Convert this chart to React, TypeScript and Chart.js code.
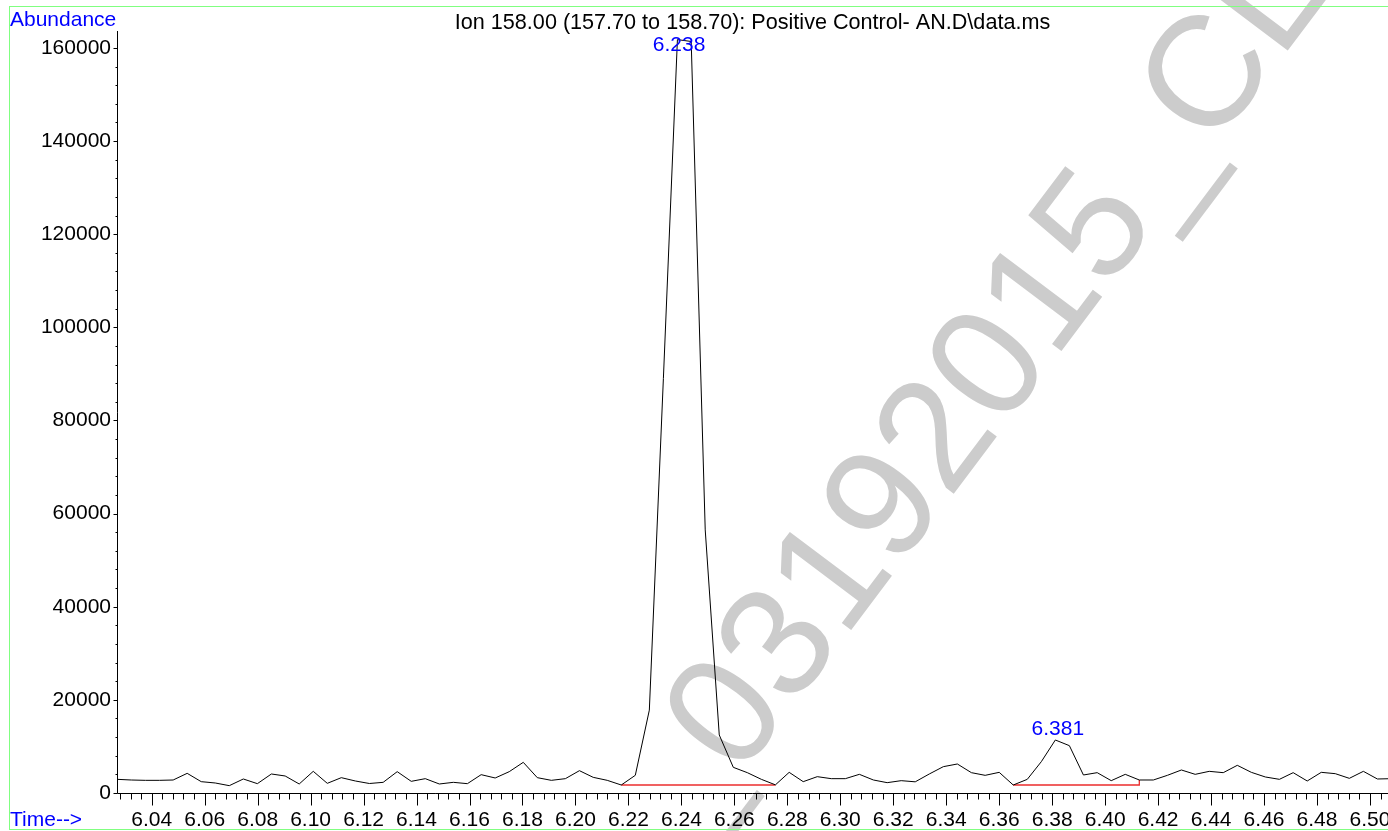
import { useEffect, useRef } from 'react';
import { Chart, registerables } from 'chart.js';

Chart.register(...registerables);

// Retention times (min) of each scan
const times: number[] = [
  6.0270, 6.0323, 6.0376, 6.0429, 6.0481, 6.0534, 6.0587, 6.0640, 6.0693, 6.0746,
  6.0799, 6.0852, 6.0904, 6.0957, 6.1010, 6.1063, 6.1116, 6.1169, 6.1222, 6.1274,
  6.1327, 6.1380, 6.1433, 6.1486, 6.1539, 6.1592, 6.1644, 6.1697, 6.1750, 6.1803,
  6.1856, 6.1909, 6.1962, 6.2015, 6.2067, 6.2120, 6.2173, 6.2226, 6.2279, 6.2332,
  6.2385, 6.2437, 6.2490, 6.2543, 6.2596, 6.2649, 6.2702, 6.2755, 6.2807, 6.2860,
  6.2913, 6.2966, 6.3019, 6.3072, 6.3125, 6.3177, 6.3230, 6.3283, 6.3336, 6.3389,
  6.3442, 6.3495, 6.3547, 6.3600, 6.3653, 6.3706, 6.3759, 6.3812, 6.3865, 6.3918,
  6.3970, 6.4023, 6.4076, 6.4129, 6.4182, 6.4235, 6.4288, 6.4340, 6.4393, 6.4446,
  6.4499, 6.4552, 6.4605, 6.4658, 6.4710, 6.4763, 6.4816, 6.4869, 6.4922, 6.4975,
  6.5028, 6.5081,
];

// Ion 158 abundance per scan
const abundance: number[] = [
  2936, 2790, 2720, 2720, 2790, 4224, 2434, 2148, 1575, 3007,
  2005, 4081, 3652, 1933, 4654, 2076, 3294, 2578, 2040, 2291,
  4582, 2506, 3079, 1933, 2291, 2005, 3938, 3222, 4582, 6587,
  3294, 2721, 3079, 4797, 3365, 2721, 1718, 3800, 17800, 89000,
  161800, 161400, 56500, 12460, 5513, 4368, 2936, 1750, 4439, 2434,
  3508, 3079, 3079, 4010, 2792, 2220, 2650, 2400, 4081, 5656,
  6229, 4368, 3795, 4439, 1718, 2936, 6730, 11384, 10167, 3866,
  4368, 2650, 4010, 2792, 2792, 3795, 4940, 4010, 4654, 4368,
  5943, 4439, 3437, 2936, 4368, 2578, 4439, 4153, 3150, 4654,
  3007, 3079,
];

// Integration baselines (red)
const baseline1Times: number[] = [6.2173, 6.2755];
const baseline1Values: number[] = [1718, 1718];
const baseline2Times: number[] = [6.3653, 6.4129, 6.4129];
const baseline2Values: number[] = [1718, 1718, 2792];

// Peak labels
const peakLabels: string[] = ['6.238', '6.381'];
const peakTimes: number[] = [6.238, 6.381];
const peakApex: number[] = [161800, 11384];

const X_MIN = 6.0269;
const X_MAX = 6.5068;
const Y_MAX = 163650;
const X_MAJOR = 0.02;
const X_MINOR = 0.004;
const Y_MAJOR = 20000;
const Y_MINOR = 4000;

const TITLE = 'Ion 158.00 (157.70 to 158.70): Positive Control- AN.D\\data.ms';
const Y_TITLE = 'Abundance';
const X_TITLE = 'Time-->';
const WATERMARK = '_03192015_CL';

const FONT = '"Liberation Sans", Arial, Helvetica, sans-serif';

const drawPlugin = {
  id: 'gcmsDecor',
  beforeDatasetsDraw(chart: any) {
    const ctx = chart.ctx as CanvasRenderingContext2D;
    const em = 157;
    const adv = 0.556 * em;
    ctx.save();
    ctx.translate(720, 710);
    ctx.rotate((-53 * Math.PI) / 180);
    ctx.font = `${em}px ${FONT}`;
    ctx.fillStyle = '#cccccc';
    ctx.textBaseline = 'alphabetic';
    ctx.textAlign = 'left';
    ctx.fillText(WATERMARK, -1.5 * adv, 0.36 * em);
    ctx.restore();
  },
  afterDraw(chart: any) {
    const ctx = chart.ctx as CanvasRenderingContext2D;
    const xs = chart.scales.x;
    const ys = chart.scales.y;
    const area = chart.chartArea;
    ctx.save();
    ctx.strokeStyle = '#000';
    ctx.lineWidth = 1;
    // axis lines
    const y0 = Math.round(ys.getPixelForValue(0)) + 0.5;
    const xl = Math.round(area.left) + 0.5;
    ctx.beginPath();
    ctx.moveTo(xl, area.top);
    ctx.lineTo(xl, y0);
    ctx.moveTo(xl, y0);
    ctx.lineTo(area.right, y0);
    ctx.stroke();

    // x ticks
    ctx.font = `21px ${FONT}`;
    ctx.fillStyle = '#000';
    ctx.textAlign = 'center';
    ctx.textBaseline = 'alphabetic';
    const kx0 = Math.ceil(X_MIN / X_MINOR - 1e-6);
    const kx1 = Math.floor(X_MAX / X_MINOR + 1e-6);
    const per = Math.round(X_MAJOR / X_MINOR);
    ctx.beginPath();
    for (let k = kx0; k <= kx1; k++) {
      const v = k * X_MINOR;
      const px = Math.round(xs.getPixelForValue(v)) + 0.5;
      const major = k % per === 0;
      ctx.moveTo(px, y0);
      ctx.lineTo(px, y0 + (major ? 12 : 6));
    }
    ctx.stroke();
    for (let k = kx0; k <= kx1; k++) {
      if (k % per !== 0) continue;
      const v = k * X_MINOR;
      const px = xs.getPixelForValue(v);
      ctx.fillText(v.toFixed(2), px, 825.5);
    }

    // y ticks
    ctx.textAlign = 'right';
    ctx.textBaseline = 'middle';
    const ky1 = Math.floor(Y_MAX / Y_MINOR);
    const yper = Math.round(Y_MAJOR / Y_MINOR);
    ctx.beginPath();
    for (let k = 0; k <= ky1; k++) {
      const py = Math.round(ys.getPixelForValue(k * Y_MINOR)) + 0.5;
      const major = k % yper === 0;
      ctx.moveTo(xl, py);
      ctx.lineTo(xl - (major ? 4 : 2), py);
    }
    ctx.stroke();
    for (let k = 0; k <= ky1; k += yper) {
      const v = k * Y_MINOR;
      ctx.fillText(String(v), 111, ys.getPixelForValue(v));
    }

    // title & axis titles
    ctx.textBaseline = 'alphabetic';
    ctx.textAlign = 'center';
    ctx.fillStyle = '#000';
    ctx.font = `21.6px ${FONT}`;
    ctx.fillText(TITLE, (area.left + area.right) / 2, 28.5);
    ctx.font = `21px ${FONT}`;
    ctx.textAlign = 'left';
    ctx.fillStyle = '#0000ff';
    ctx.fillText(Y_TITLE, 10, 26);
    ctx.fillText(X_TITLE, 10, 825.5);

    // peak labels
    ctx.textAlign = 'center';
    for (let i = 0; i < peakLabels.length; i++) {
      const px = xs.getPixelForValue(peakTimes[i]) + 3;
      const py = Math.max(ys.getPixelForValue(peakApex[i]) - 5, 51);
      ctx.fillText(peakLabels[i], px, py);
    }

    // frame
    ctx.strokeStyle = '#80ff80';
    ctx.lineWidth = 1;
    ctx.strokeRect(9.5, 6.5, 1390, 823);
    ctx.restore();
  },
};

export default function App() {
  const ref = useRef<HTMLCanvasElement>(null);
  useEffect(() => {
    const red = 'rgb(235,45,45)';
    const chart = new Chart(ref.current as HTMLCanvasElement, {
      type: 'line',
      data: {
        datasets: [
          {
            data: times.map((t, i) => ({ x: t, y: abundance[i] })),
            borderColor: '#000000',
            borderWidth: 1,
            pointRadius: 0,
            tension: 0,
            fill: false,
          },
          {
            data: baseline1Times.map((t, i) => ({ x: t, y: baseline1Values[i] })),
            borderColor: red,
            borderWidth: 1.3,
            pointRadius: 0,
            tension: 0,
            fill: false,
          },
          {
            data: baseline2Times.map((t, i) => ({ x: t, y: baseline2Values[i] })),
            borderColor: red,
            borderWidth: 1.3,
            pointRadius: 0,
            tension: 0,
            fill: false,
          },
        ],
      },
      options: {
        animation: false,
        responsive: false,
        devicePixelRatio: 1,
        events: [],
        layout: { padding: { left: 117, top: 31, right: 0, bottom: 38 } },
        plugins: {
          legend: { display: false },
          tooltip: { enabled: false },
          title: { display: false },
        },
        scales: {
          x: { type: 'linear', min: X_MIN, max: X_MAX, display: false },
          y: { type: 'linear', min: 0, max: Y_MAX, display: false },
        },
      },
      plugins: [drawPlugin],
    });
    return () => chart.destroy();
  }, []);
  return (
    <div style={{ position: 'absolute', left: 0, top: 0, width: 1388, height: 831, background: '#fff' }}>
      <canvas ref={ref} width={1388} height={831} style={{ display: 'block' }} />
    </div>
  );
}
